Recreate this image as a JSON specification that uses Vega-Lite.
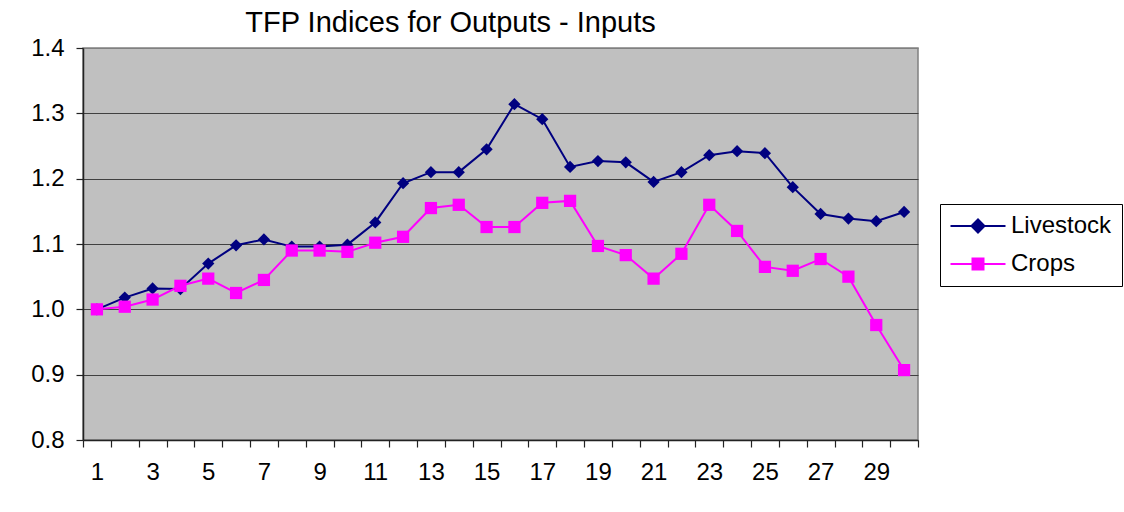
{
  "$schema": "https://vega.github.io/schema/vega-lite/v6.json",
  "width": 835,
  "height": 392,
  "autosize": {"type": "none"},
  "padding": {"left": 83, "top": 48, "right": 206, "bottom": 72},
  "background": "white",
  "config": {
    "font": "Liberation Sans",
    "view": {"fill": "#C0C0C0", "stroke": "#808080", "strokeWidth": 1.5}
  },
  "title": {
    "text": "TFP Indices for Outputs - Inputs",
    "fontSize": 29,
    "font": "Liberation Sans",
    "fontWeight": "normal",
    "color": "black",
    "anchor": "middle",
    "dx": -50,
    "offset": -2
  },
  "data": {
    "values": [
      {"period": 1, "series": "Livestock", "index": 1.000},
      {"period": 2, "series": "Livestock", "index": 1.018},
      {"period": 3, "series": "Livestock", "index": 1.032},
      {"period": 4, "series": "Livestock", "index": 1.031},
      {"period": 5, "series": "Livestock", "index": 1.070},
      {"period": 6, "series": "Livestock", "index": 1.098},
      {"period": 7, "series": "Livestock", "index": 1.107},
      {"period": 8, "series": "Livestock", "index": 1.096},
      {"period": 9, "series": "Livestock", "index": 1.096},
      {"period": 10, "series": "Livestock", "index": 1.099},
      {"period": 11, "series": "Livestock", "index": 1.133},
      {"period": 12, "series": "Livestock", "index": 1.193},
      {"period": 13, "series": "Livestock", "index": 1.210},
      {"period": 14, "series": "Livestock", "index": 1.210},
      {"period": 15, "series": "Livestock", "index": 1.245},
      {"period": 16, "series": "Livestock", "index": 1.314},
      {"period": 17, "series": "Livestock", "index": 1.291},
      {"period": 18, "series": "Livestock", "index": 1.218},
      {"period": 19, "series": "Livestock", "index": 1.227},
      {"period": 20, "series": "Livestock", "index": 1.225},
      {"period": 21, "series": "Livestock", "index": 1.195},
      {"period": 22, "series": "Livestock", "index": 1.210},
      {"period": 23, "series": "Livestock", "index": 1.236},
      {"period": 24, "series": "Livestock", "index": 1.242},
      {"period": 25, "series": "Livestock", "index": 1.239},
      {"period": 26, "series": "Livestock", "index": 1.187},
      {"period": 27, "series": "Livestock", "index": 1.146},
      {"period": 28, "series": "Livestock", "index": 1.139},
      {"period": 29, "series": "Livestock", "index": 1.135},
      {"period": 30, "series": "Livestock", "index": 1.149},
      {"period": 1, "series": "Crops", "index": 1.000},
      {"period": 2, "series": "Crops", "index": 1.004},
      {"period": 3, "series": "Crops", "index": 1.015},
      {"period": 4, "series": "Crops", "index": 1.036},
      {"period": 5, "series": "Crops", "index": 1.047},
      {"period": 6, "series": "Crops", "index": 1.025},
      {"period": 7, "series": "Crops", "index": 1.045},
      {"period": 8, "series": "Crops", "index": 1.090},
      {"period": 9, "series": "Crops", "index": 1.090},
      {"period": 10, "series": "Crops", "index": 1.088},
      {"period": 11, "series": "Crops", "index": 1.102},
      {"period": 12, "series": "Crops", "index": 1.111},
      {"period": 13, "series": "Crops", "index": 1.155},
      {"period": 14, "series": "Crops", "index": 1.160},
      {"period": 15, "series": "Crops", "index": 1.126},
      {"period": 16, "series": "Crops", "index": 1.126},
      {"period": 17, "series": "Crops", "index": 1.163},
      {"period": 18, "series": "Crops", "index": 1.166},
      {"period": 19, "series": "Crops", "index": 1.097},
      {"period": 20, "series": "Crops", "index": 1.083},
      {"period": 21, "series": "Crops", "index": 1.047},
      {"period": 22, "series": "Crops", "index": 1.085},
      {"period": 23, "series": "Crops", "index": 1.160},
      {"period": 24, "series": "Crops", "index": 1.120},
      {"period": 25, "series": "Crops", "index": 1.065},
      {"period": 26, "series": "Crops", "index": 1.059},
      {"period": 27, "series": "Crops", "index": 1.077},
      {"period": 28, "series": "Crops", "index": 1.050},
      {"period": 29, "series": "Crops", "index": 0.976},
      {"period": 30, "series": "Crops", "index": 0.907}
    ]
  },
  "encoding": {
    "y": {
      "field": "index",
      "type": "quantitative",
      "title": null,
      "scale": {"domain": [0.8, 1.4], "nice": false, "zero": false},
      "axis": {
        "values": [0.8, 0.9, 1.0, 1.1, 1.2, 1.3, 1.4],
        "format": ".1f",
        "grid": true,
        "gridColor": {"condition": {"test": "datum.value >= 1.4", "value": "#808080"}, "value": "#404040"},
        "gridWidth": 1.2,
        "gridOpacity": 1,
        "domainColor": "#222222",
        "domainWidth": 1.5,
        "tickColor": "#222222",
        "tickSize": 7,
        "tickWidth": 1.2,
        "labelFontSize": 24,
        "labelColor": "black",
        "labelPadding": 12
      }
    },
    "color": {
      "field": "series",
      "type": "nominal",
      "scale": {"domain": ["Livestock", "Crops"], "range": ["#000080", "#FF00FF"]},
      "legend": {
        "title": null,
        "orient": "none",
        "legendX": 857,
        "legendY": 156,
        "strokeColor": "black",
        "fillColor": "white",
        "padding": 10,
        "labelFontSize": 24,
        "labelColor": "black",
        "labelOffset": 21,
        "symbolOffset": 16,
        "rowPadding": 14,
        "encode": {
          "symbols": {
            "update": {
              "size": {"value": 100},
              "strokeWidth": {"value": 2},
              "opacity": {"value": 1},
              "fillOpacity": {"value": 1},
              "strokeOpacity": {"value": 1}
            }
          }
        }
      }
    }
  },
  "layer": [
    {
      "mark": {"type": "line", "strokeWidth": 2},
      "encoding": {
        "x": {
          "field": "period",
          "type": "quantitative",
          "title": null,
          "scale": {"domain": [0.5, 30.5], "nice": false, "zero": false},
          "axis": {
            "orient": "bottom",
            "values": [0.5, 1.5, 2.5, 3.5, 4.5, 5.5, 6.5, 7.5, 8.5, 9.5, 10.5, 11.5, 12.5, 13.5, 14.5, 15.5, 16.5, 17.5, 18.5, 19.5, 20.5, 21.5, 22.5, 23.5, 24.5, 25.5, 26.5, 27.5, 28.5, 29.5, 30.5],
            "labels": false,
            "grid": false,
            "domainColor": "#222222",
            "domainWidth": 1.5,
            "tickColor": "#222222",
            "tickSize": 7,
            "tickWidth": 1.2
          }
        }
      }
    },
    {
      "transform": [{"filter": "datum.series === 'Livestock'"}],
      "mark": {"type": "point", "filled": true, "opacity": 1, "shape": "diamond", "size": 150},
      "encoding": {
        "x": {
          "field": "period",
          "type": "quantitative",
          "title": null,
          "axis": {
            "orient": "bottom",
            "values": [1, 3, 5, 7, 9, 11, 13, 15, 17, 19, 21, 23, 25, 27, 29],
            "format": "d",
            "grid": false,
            "domain": false,
            "ticks": false,
            "tickSize": 0,
            "labelFontSize": 24,
            "labelColor": "black",
            "labelPadding": 20
          }
        }
      }
    },
    {
      "transform": [{"filter": "datum.series === 'Crops'"}],
      "mark": {"type": "point", "filled": true, "opacity": 1, "shape": "square", "size": 150},
      "encoding": {
        "x": {
          "field": "period",
          "type": "quantitative",
          "title": null,
          "axis": null
        }
      }
    },
    {
      "mark": {"type": "point", "filled": true, "opacity": 0, "size": 10},
      "encoding": {
        "x": {
          "field": "period",
          "type": "quantitative",
          "title": null,
          "axis": null
        },
        "shape": {
          "field": "series",
          "type": "nominal",
          "scale": {"domain": ["Livestock", "Crops"], "range": ["M-5.5,0H5.5M-1.3,0L0,-1.3L1.3,0L0,1.3Z", "M-5.5,0H5.5M-1.1,-1.1H1.1V1.1H-1.1Z"]},
          "legend": null
        }
      }
    }
  ],
  "resolve": {"axis": {"x": "independent"}}
}
